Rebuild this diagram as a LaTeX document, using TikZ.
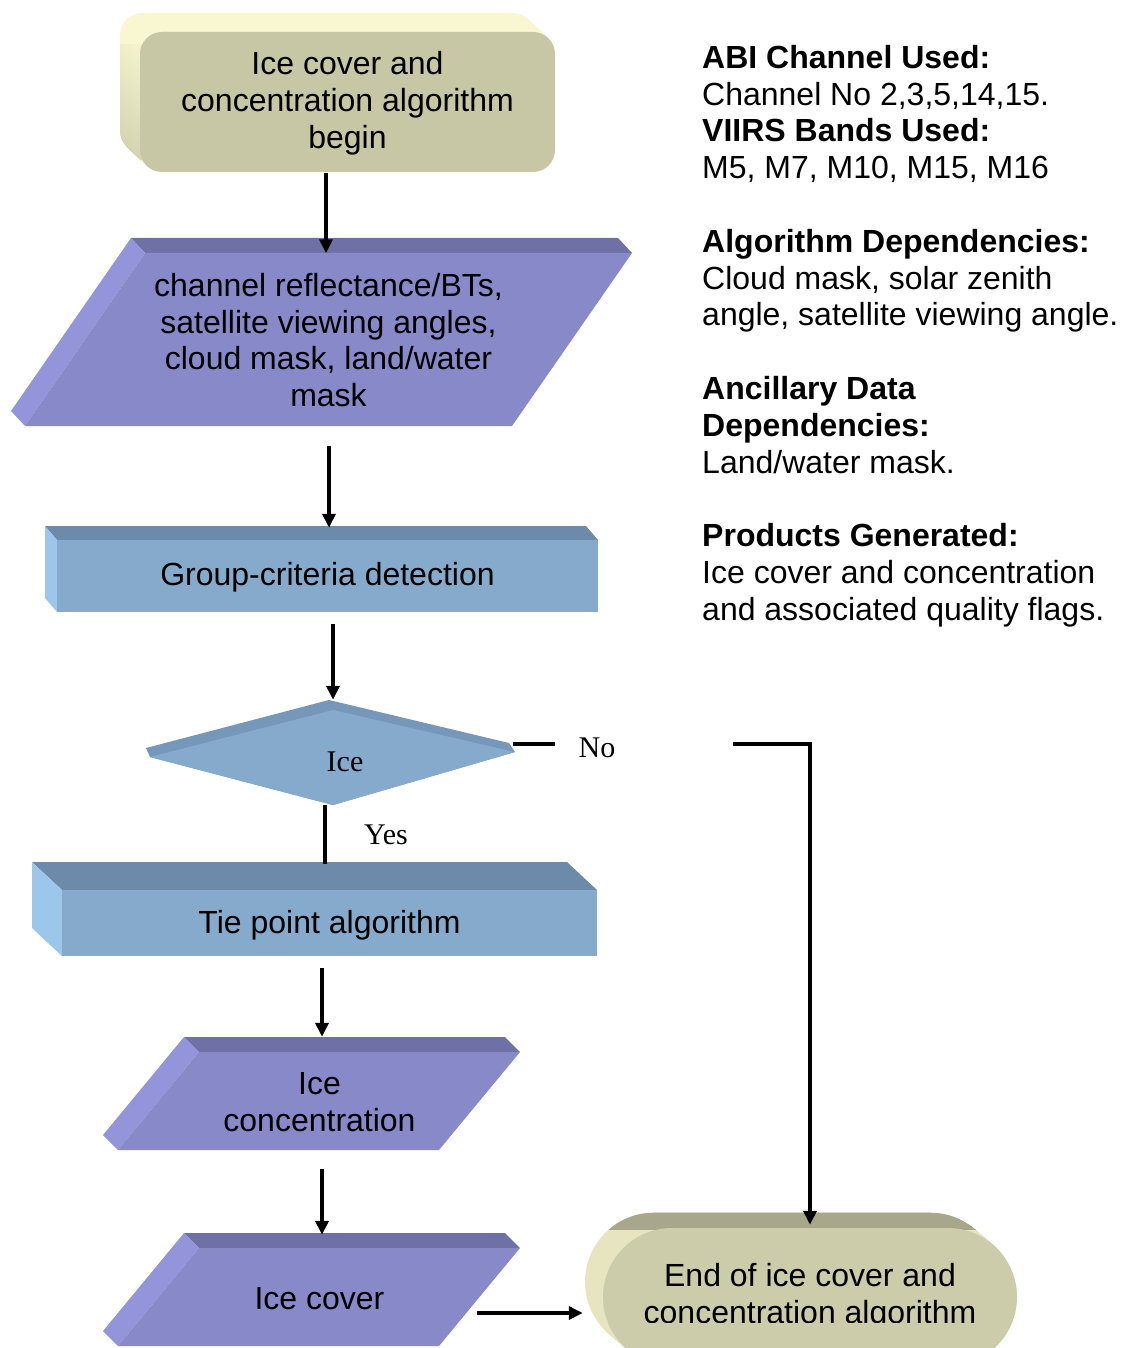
\documentclass[tikz,border=0pt]{standalone}
\usepackage{fontspec}
\setmainfont{Liberation Sans}
\newfontfamily\tnr{Liberation Serif}
\usetikzlibrary{arrows.meta,calc}
\definecolor{tanF}{HTML}{C7C6A5}
\definecolor{tanB}{HTML}{F8F7D2}
\definecolor{tanLs}{HTML}{D2D1AE}
\definecolor{endF}{HTML}{CCCBAA}
\definecolor{tanL}{HTML}{E6E5C0}
\definecolor{tanD}{HTML}{A8A78C}
\definecolor{purF}{HTML}{8789C9}
\definecolor{purT}{HTML}{6F71A6}
\definecolor{purL}{HTML}{9394DA}
\definecolor{bluF}{HTML}{85AACC}
\definecolor{bluT}{HTML}{6C8BAA}
\definecolor{bluL}{HTML}{9CC6EA}
\definecolor{bluD}{HTML}{7697BA}
\pgfdeclarehorizontalshading{endtop}{100bp}{color(0bp)=(tanL); color(10bp)=(tanL); color(22bp)=(tanD); color(88bp)=(tanD); color(100bp)=(tanD!60!tanL)}
\begin{document}
\begin{tikzpicture}[x=1pt,y=-1pt,
  txt/.style={inner sep=0pt, align=center, font=\fontsize{32}{36.8}\selectfont},
  lbl/.style={inner sep=0pt, font=\tnr\fontsize{30}{34}\selectfont},
  arr/.style={line width=4pt, -{Triangle[length=14pt,width=13pt]}},
  ln/.style={line width=4pt}]
\useasboundingbox (0,0) rectangle (1121,1348);
\clip (0,0) rectangle (1121,1348);

% ---- start box
\foreach \i in {20,19,...,1}{
  \fill[tanB, rounded corners=22pt] (140-\i,32-0.95*\i) rectangle (555-\i,172-0.95*\i);
}
\begin{scope}
  \clip (110,45) rectangle (141,200);
  \foreach \i in {20,19,...,1}{
    \shade[top color=tanB, bottom color=tanLs, rounded corners=22pt] (140-\i,32-0.95*\i) rectangle (555-\i,172-0.95*\i);
  }
\end{scope}
\fill[tanF, rounded corners=22pt] (140,32) rectangle (555,172);

% ---- input parallelogram
\fill[purT] (131,238) -- (618,238) -- (632,253) -- (145,253) -- cycle;
\fill[purL] (131,238) -- (145,253) -- (25,426) -- (11,411) -- cycle;
\fill[purF] (145,253) -- (632,253) -- (512,426) -- (25,426) -- cycle;

% ---- group box
\fill[bluT] (45,526) -- (586,526) -- (598,540) -- (57,540) -- cycle;
\fill[bluL] (45,526) -- (57,540) -- (57,612) -- (45,598) -- cycle;
\fill[bluF] (57,540) rectangle (598,612);

% ---- diamond
\fill[bluD] (146,748) -- (329,700) -- (509,743) -- (515,752) -- (333,805) -- (150,757) -- cycle;
\fill[bluF] (150,757) -- (333,710) -- (515,752) -- (333,805) -- cycle;

% ---- tie box
\fill[bluT] (32,862) -- (567,862) -- (597,890) -- (62,890) -- cycle;
\fill[bluL] (32,862) -- (62,890) -- (62,956) -- (32,928) -- cycle;
\fill[bluF] (62,890) rectangle (597,956);

% ---- ice concentration
\fill[purT] (184,1037) -- (505,1037) -- (520,1052) -- (199,1052) -- cycle;
\fill[purL] (184,1037) -- (199,1052) -- (118,1150) -- (103,1135) -- cycle;
\fill[purF] (199,1052) -- (520,1052) -- (439,1150) -- (118,1150) -- cycle;

% ---- ice cover
\fill[purT] (184,1233) -- (505,1233) -- (520,1248) -- (199,1248) -- cycle;
\fill[purL] (184,1233) -- (199,1248) -- (118,1346) -- (103,1331) -- cycle;
\fill[purF] (199,1248) -- (520,1248) -- (439,1346) -- (118,1346) -- cycle;

% ---- end box
\foreach \i in {18,17,...,1}{
  \fill[tanL, rounded corners=69pt] (603-\i,1228-0.85*\i) rectangle (1017-\i,1366-0.85*\i);
}
\begin{scope}
  \clip (585,1200) rectangle (1020,1229);
  \foreach \i in {18,17,...,1}{
    \shade[shading=endtop, rounded corners=69pt] (603-\i,1228-0.85*\i) rectangle (1017-\i,1366-0.85*\i);
  }
\end{scope}
\fill[endF, rounded corners=69pt] (603,1228) rectangle (1017,1366);

% ---- nodes
\node[txt, minimum width=415pt, minimum height=140pt] (start) at (347.5,103)
  {Ice cover and\\concentration algorithm\\begin};
\node[txt, minimum height=173pt] (in1) at (328.5,340)
  {channel reflectance/BTs,\\satellite viewing angles,\\cloud mask, land/water\\mask};
\node[txt, minimum height=72pt] (grp) at (327.5,577) {Group-criteria detection};
\node[lbl, minimum width=365pt, minimum height=95pt] (ice) at (345,762) {Ice};
\node[txt, minimum height=66pt] (tie) at (329.5,925) {Tie point algorithm};
\node[txt, minimum height=98pt] (conc) at (319.5,1102) {Ice\\concentration};
\node[txt, minimum height=98pt] (cover) at (319.5,1299) {Ice cover};
\begin{scope}
  \clip (585,1200) rectangle (1030,1322);
  \node[txt, minimum width=414pt, minimum height=138pt] (fin) at (810,1297)
    {End of ice cover and\\concentration algorithm};
\end{scope}
\node[lbl] (yes) at (386,835) {Yes};
\node[lbl] (no) at (597,748) {No};
\coordinate (noA) at (555,744);
\coordinate (noB) at (733,744);

\node[txt, align=left, anchor=north west] (info) at (702,45)
  {\textbf{ABI Channel Used:}\\
   Channel No 2,3,5,14,15.\\
   \textbf{VIIRS Bands Used:}\\
   M5, M7, M10, M15, M16\\[36.8pt]
   \textbf{Algorithm Dependencies:}\\
   Cloud mask, solar zenith\\
   angle, satellite viewing angle.\\[36.8pt]
   \textbf{Ancillary Data}\\
   \textbf{Dependencies:}\\
   Land/water mask.\\[36.8pt]
   \textbf{Products Generated:}\\
   Ice cover and concentration\\
   and associated quality flags.};

% ---- connectors
\draw[arr] ([xshift=-21.5pt]start.south) -- ([xshift=-2.5pt]in1.north);
\draw[arr, shorten <=19pt] ([xshift=0.5pt]in1.south) -- ([xshift=1.5pt,yshift=13pt]grp.north);
\draw[arr, shorten <=11pt] ([xshift=5.5pt]grp.south) -- ([xshift=-12pt,yshift=14.5pt]ice.north);
\draw[ln] ([xshift=-20pt,yshift=4.5pt]ice.south) -- ([xshift=-4.5pt,yshift=28pt]tie.north);
\draw[ln] ([xshift=-14.5pt,yshift=18pt]ice.east) -- (noA);
\draw[arr] (noB) -| ([yshift=3pt]fin.north);
\draw[arr, shorten <=10pt] ([xshift=-7.5pt]tie.south) -- ([xshift=2.5pt,yshift=16pt]conc.north);
\draw[arr, shorten <=18pt] ([xshift=2.5pt]conc.south) -- ([xshift=2.5pt,yshift=15pt]cover.north);
\draw[arr] ([xshift=157.5pt,yshift=-14pt]cover.center) -- ([xshift=-20pt,yshift=-16pt]fin.west);
\end{tikzpicture}
\end{document}
